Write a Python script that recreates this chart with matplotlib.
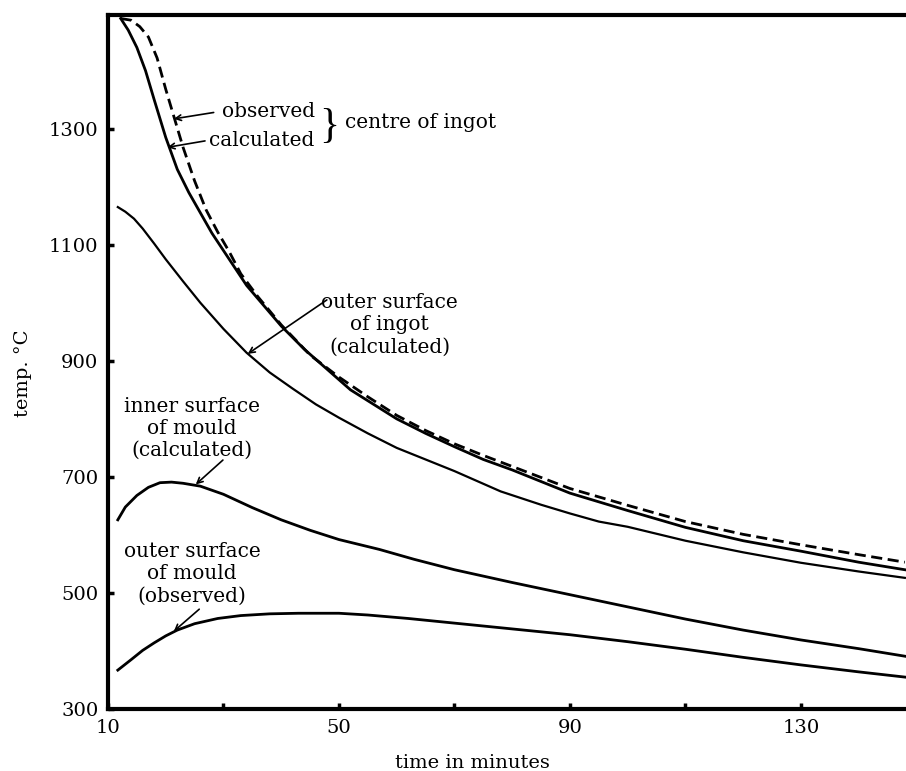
import numpy as np
import matplotlib
matplotlib.use("Agg")
import matplotlib.pyplot as plt

# centre of ingot, calculated (solid)
centre_calc_t = [12.2, 13.5, 15, 16.5, 18, 20, 22, 24, 26, 28, 31, 34, 37, 40, 44, 48, 52, 56, 60,
                 65, 70, 75, 80, 90, 100, 110, 120, 130, 140, 148]
centre_calc_T = [1490, 1470, 1440, 1400, 1350, 1285, 1230, 1190, 1155, 1120, 1075, 1030, 995, 960,
                 920, 885, 850, 825, 800, 775, 752, 730, 712, 672, 642, 613, 590, 572, 553, 540]

# centre of ingot, observed (dashed)
centre_obs_t = [12.2, 14, 15.5, 17, 18.5, 20, 21.5, 23, 25, 27, 29, 31, 33, 36, 40, 45, 50, 55, 60,
                65, 70, 75, 80, 90, 100, 110, 120, 130, 140, 148]
centre_obs_T = [1490, 1487, 1476, 1458, 1422, 1368, 1318, 1268, 1210, 1160, 1122, 1088, 1050, 1010,
                962, 910, 872, 838, 806, 780, 757, 737, 718, 680, 651, 623, 601, 583, 566, 553]

# outer surface of ingot, calculated
ingot_surf_t = [11.7, 13, 14.5, 16, 18, 20, 23, 26, 30, 34, 38, 42, 46, 50, 55, 60, 65, 70, 78, 85,
                90, 95, 100, 110, 120, 130, 140, 148]
ingot_surf_T = [1165, 1157, 1145, 1128, 1102, 1075, 1037, 1000, 955, 914, 880, 852, 825, 802, 775,
                750, 730, 710, 675, 652, 637, 623, 614, 590, 570, 552, 537, 526]

# inner surface of mould, calculated
mould_in_t = [11.7, 13, 15, 17, 19, 21, 23, 26, 30, 35, 40, 45, 50, 57, 63, 70, 80, 90, 100, 110,
              120, 130, 140, 148]
mould_in_T = [626, 648, 668, 682, 690, 691, 689, 684, 670, 647, 626, 608, 592, 575, 558, 540, 518,
              497, 476, 455, 436, 419, 404, 391]

# outer surface of mould, observed
mould_out_t = [11.7, 14, 16, 18, 20, 22, 25, 29, 33, 38, 43, 50, 55, 62, 70, 80, 90, 100, 110, 120,
               130, 140, 148]
mould_out_T = [367, 385, 401, 414, 426, 436, 447, 456, 461, 464, 465, 465, 462, 456, 448, 438, 428,
               416, 403, 389, 376, 364, 355]

x_ticks = [10, 50, 90, 130]
x_minor = [30, 70, 110]
y_ticks = [300, 500, 700, 900, 1100, 1300]

serif = "DejaVu Serif"
note_font = "DejaVu Serif"
note_size = 14.5

fig = plt.figure(figsize=(9.06, 7.71), dpi=100)
ax = fig.add_axes([108/906, 1 - 709/771, (906 - 108)/906, (709 - 15)/771])

ax.plot(centre_obs_t, centre_obs_T, color='black', lw=2.0, linestyle=(0, (4, 2)))
ax.plot(centre_calc_t, centre_calc_T, color='black', lw=2.0)
ax.plot(ingot_surf_t, ingot_surf_T, color='black', lw=1.6)
ax.plot(mould_in_t, mould_in_T, color='black', lw=2.0)
ax.plot(mould_out_t, mould_out_T, color='black', lw=2.0)

ax.set_xlim(10, 148.2)
ax.set_ylim(300, 1496)
ax.set_xticks(x_ticks)
ax.set_xticks(x_minor, minor=True)
ax.set_yticks(y_ticks)
ax.set_xticklabels([str(v) for v in x_ticks], fontfamily=serif, fontsize=14)
ax.set_yticklabels([str(v) for v in y_ticks], fontfamily=serif, fontsize=14)
ax.tick_params(axis='both', which='both', direction='in', length=4, width=2.5, pad=7)

for s in ['left', 'top', 'bottom']:
    ax.spines[s].set_linewidth(3)
ax.spines['right'].set_visible(False)

fig.text(472/906, 1 - 763/771, "time in minutes", fontfamily=serif, fontsize=14,
         ha='center', va='center')
fig.text(23/906, 1 - 373/771, "temp. °C", fontfamily=serif, fontsize=14,
         ha='center', va='center', rotation=90)

arrow = dict(arrowstyle='->', color='black', lw=1.2, shrinkA=0, shrinkB=0, mutation_scale=10)

ax.text(45.8, 1329, "observed", fontfamily=note_font, fontsize=note_size, ha='right', va='center')
ax.text(45.8, 1279, "calculated", fontfamily=note_font, fontsize=note_size, ha='right', va='center')
ax.annotate("", xy=(21.4, 1317), xytext=(28.3, 1328), arrowprops=arrow)
ax.annotate("", xy=(20.3, 1268), xytext=(26.8, 1279), arrowprops=arrow)
ax.text(46.6, 1303, "}", fontfamily="Liberation Serif", fontsize=30, ha='left', va='center')
ax.text(51.0, 1310, "centre of ingot", fontfamily=note_font, fontsize=note_size,
        ha='left', va='center')

ax.text(58.8, 962, "outer surface\nof ingot\n(calculated)", fontfamily=note_font,
        fontsize=note_size, ha='center', va='center', multialignment='center', linespacing=1.2)
ax.annotate("", xy=(34.2, 912), xytext=(47.9, 1005), arrowprops=arrow)

ax.text(24.6, 784, "inner surface\nof mould\n(calculated)", fontfamily=note_font,
        fontsize=note_size, ha='center', va='center', multialignment='center', linespacing=1.2)
ax.annotate("", xy=(25.2, 687), xytext=(29.9, 729), arrowprops=arrow)

ax.text(24.6, 533, "outer surface\nof mould\n(observed)", fontfamily=note_font,
        fontsize=note_size, ha='center', va='center', multialignment='center', linespacing=1.2)
ax.annotate("", xy=(21.4, 434), xytext=(25.8, 472), arrowprops=arrow)

fig.savefig("out.png", dpi=100)
